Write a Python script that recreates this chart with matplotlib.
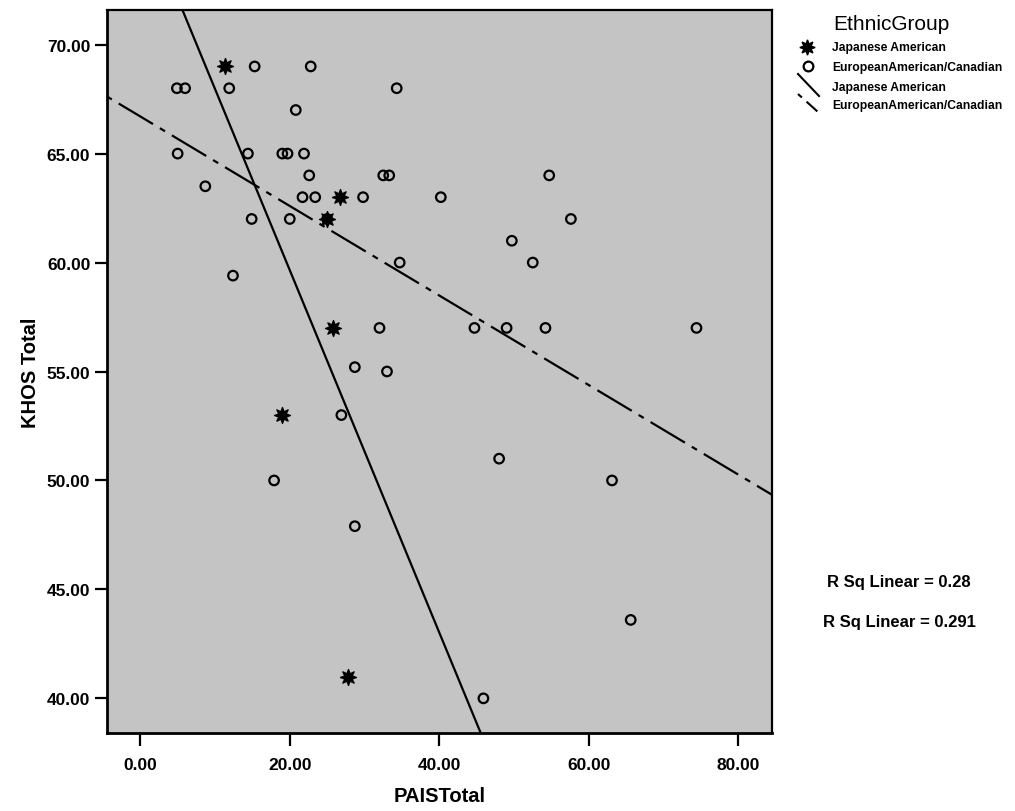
import numpy as np
import matplotlib
matplotlib.use('Agg')
import matplotlib.pyplot as plt
from matplotlib.lines import Line2D

plt.rcParams['font.family'] = ['Liberation Sans', 'DejaVu Sans']

# Japanese American (PAISTotal, KHOS Total)
jp_pais = [11.3, 26.7, 25.0, 25.8, 18.9, 27.8]
jp_khos = [69, 63, 62, 57, 53, 41]

# European American / Canadian
eu_pais = [4.9, 6.0, 11.9, 15.3, 22.8, 34.3, 20.8, 5.0, 14.4, 19.0,
           19.7, 21.9, 22.6, 32.5, 33.3, 8.7, 21.7, 23.4, 29.8, 40.2,
           25.0, 14.9, 20.0, 34.7, 12.4, 54.7, 57.6, 49.7, 52.5, 44.7,
           49.0, 54.2, 74.4, 32.0, 28.7, 33.0, 26.9, 48.0, 17.9, 28.7,
           45.9, 63.1, 65.6]
eu_khos = [68, 68, 68, 69, 69, 68, 67, 65, 65, 65,
           65, 65, 64, 64, 64, 63.5, 63, 63, 63, 63,
           62, 62, 62, 60, 59.4, 64, 62, 61, 60, 57,
           57, 57, 57, 57, 55.2, 55, 53, 51, 50, 47.9,
           40, 50, 43.6]

group_labels = ['Japanese American', 'EuropeanAmerican/Canadian']
r_sq_labels = ['R Sq Linear = 0.28', 'R Sq Linear = 0.291']
x_ticks = [0, 20, 40, 60, 80]
y_ticks = [40, 45, 50, 55, 60, 65, 70]

W, H = 1015, 812


def fx(px):
    return px / W


def fy(py):
    return 1 - py / H


STAR = (8, 1, 0)
DASHDOT = (18, 3.6, 2.7, 3.6)

fig = plt.figure(figsize=(W / 100, H / 100), dpi=100)
ax = fig.add_axes([fx(107), fy(734), fx(772) - fx(107), fy(11) - fy(734)])
ax.set_facecolor('#c4c4c4')

# points
ax.scatter(eu_pais, eu_khos, s=47, facecolors='none', edgecolors='black',
           linewidths=1.6, zorder=3)
ax.scatter(jp_pais, jp_khos, s=130, marker=STAR, color='black', zorder=4)

# linear fit lines per group
xs = np.array([-10.0, 90.0])
k, b = np.polyfit(jp_pais, jp_khos, 1)
ax.plot(xs, b + k * xs, color='black', lw=1.6, zorder=2)
k, b = np.polyfit(eu_pais, eu_khos, 1)
ax.plot(xs, b + k * xs, color='black', lw=1.6, dashes=DASHDOT, zorder=2)

ax.set_xlim(-4.45, 84.5)
ax.set_ylim(38.41, 71.59)

ax.set_xticks(x_ticks)
ax.set_xticklabels(['%.2f' % t for t in x_ticks], fontweight='bold')
ax.set_yticks(y_ticks)
ax.set_yticklabels(['%.2f' % t for t in y_ticks], fontweight='bold')
ax.tick_params(direction='out', length=9, width=1.6, labelsize=12.5, color='black')
ax.tick_params(axis='x', pad=8)
ax.tick_params(axis='y', pad=3)
for sp in ax.spines.values():
    sp.set_linewidth(1.6)
ax.spines['left'].set_linewidth(2)
ax.spines['bottom'].set_linewidth(2)

ax.set_xlabel('PAISTotal', fontsize=14.5, fontweight='bold')
ax.xaxis.set_label_coords(0.5, -(787 - 734) / (734 - 11))
ax.set_ylabel('KHOS Total', fontsize=14.5, fontweight='bold')
ax.yaxis.set_label_coords(-(107 - 40) / (772 - 107), 0.5)

# legend drawn by hand so the line keys are diagonal like the original
fig.text(fx(833), fy(25), 'EthnicGroup', fontsize=15, ha='left', va='center')
fig.add_artist(Line2D([fx(807)], [fy(48)], marker=STAR, ms=11, color='black',
                      transform=fig.transFigure))
fig.add_artist(Line2D([fx(808)], [fy(67)], marker='o', ms=7, mfc='none',
                      mec='black', mew=1.6, transform=fig.transFigure))
fig.add_artist(Line2D([fx(798), fx(819)], [fy(75), fy(97)], color='black',
                      lw=1.5, transform=fig.transFigure))
fig.add_artist(Line2D([fx(798), fx(818)], [fy(95), fy(113)], color='black',
                      lw=1.5, dashes=(2.5, 3, 7, 3), transform=fig.transFigure))
for label, py in zip(group_labels + group_labels, [48, 67.5, 88, 106]):
    fig.text(fx(832), fy(py), label, fontsize=8.7, fontweight='bold',
             ha='left', va='center')

for label, py in zip(r_sq_labels, [583, 623]):
    fig.text(fx(899), fy(py), label, fontsize=12, fontweight='bold',
             ha='center', va='center')

fig.savefig('out.png', dpi=100)
